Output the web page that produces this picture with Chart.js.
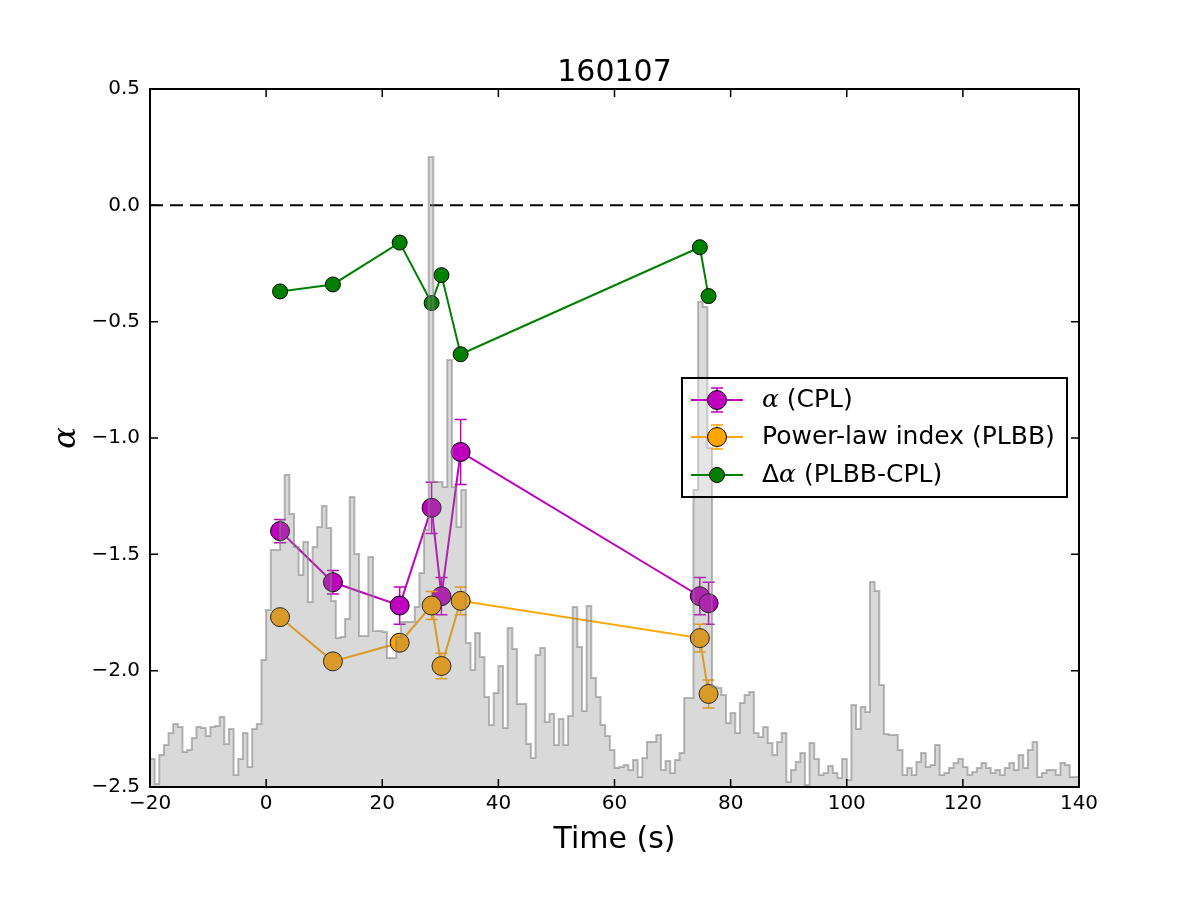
<!DOCTYPE html>
<html>
<head>
<meta charset="utf-8">
<title>160107</title>
<script src="https://cdn.jsdelivr.net/npm/chart.js@4.4.0/dist/chart.umd.min.js"></script>
<style>
  body { margin: 0; background: #fff; }
  canvas { display: block; }
</style>
</head>
<body>
<canvas id="chart" width="1200" height="900"></canvas>
<script>
// time-resolved spectral fits
const times = [2.4, 11.5, 23.0, 28.5, 30.2, 33.5, 74.7, 76.2];
const alphaCPL = [-1.40, -1.62, -1.72, -1.30, -1.68, -1.06, -1.68, -1.71];
const alphaCPLErr = [0.05, 0.05, 0.08, 0.11, 0.08, 0.14, 0.08, 0.09];
const plIndex = [-1.77, -1.96, -1.88, -1.72, -1.98, -1.70, -1.86, -2.10];
const plIndexErr = [0.03, 0.03, 0.03, 0.06, 0.055, 0.06, 0.06, 0.06];
const deltaAlpha = [-0.37, -0.34, -0.16, -0.42, -0.30, -0.64, -0.18, -0.39];

// light curve (arbitrary units), 0.8 s bins starting at -20 s
const histStart = -20;
const histBin = 0.8;
const histCounts = [
  28, 3, 32, 42, 54, 63, 60, 35, 37, 49,
  60, 59, 51, 60, 61, 70, 43, 58, 12, 28,
  54, 20, 58, 63, 127, 177, 237, 237, 267, 312,
  273, 240, 212, 245, 185, 240, 260, 281, 259, 186,
  149, 150, 168, 290, 233, 151, 151, 230, 156, 156,
  155, 129, 129, 150, 165, 165, 165, 180, 214, 257,
  630, 305, 305, 300, 427, 300, 260, 297, 144, 117,
  154, 130, 90, 62, 94, 121, 59, 159, 138, 83,
  83, 43, 29, 132, 139, 65, 73, 42, 68, 42,
  71, 180, 140, 76, 181, 109, 90, 62, 51, 37,
  19, 20, 22, 17, 27, 10, 29, 45, 45, 52,
  17, 26, 14, 27, 34, 89, 89, 297, 485, 480,
  339, 100, 99, 92, 64, 74, 54, 84, 92, 95,
  54, 50, 60, 44, 32, 45, 54, 5, 17, 25,
  34, 2, 44, 28, 12, 14, 21, 14, 9, 28,
  7, 82, 58, 80, 75, 205, 196, 102, 53, 52,
  52, 37, 12, 19, 12, 25, 34, 20, 22, 42,
  12, 14, 19, 24, 28, 20, 12, 15, 19, 24,
  19, 14, 17, 12, 19, 24, 17, 32, 19, 37,
  45, 10, 14, 17, 17, 12, 24, 22, 10, 10
];

const xTicks = [-20, 0, 20, 40, 60, 80, 100, 120, 140];
const yTicks = [-2.5, -2.0, -1.5, -1.0, -0.5, 0.0, 0.5];

const FONT = '"DejaVu Sans"';
const MAGENTA = '#bf00bf';
const ORANGE = '#ffa500';
const GREEN = '#008000';

function pts(ys) {
  return times.map(function (t, i) { return { x: t, y: ys[i] }; });
}

const histPoints = histCounts.map(function (c, i) {
  return { x: histStart + i * histBin, y: c };
});
histPoints.push({ x: histStart + histCounts.length * histBin, y: histCounts[histCounts.length - 1] });

function minus(s) { return s.replace('-', '\u2212'); }

// error bars are drawn just before their series, under the markers
const errorBars = {
  id: 'errorBars',
  beforeDatasetDraw(chart, args) {
    const ds = chart.data.datasets[args.index];
    if (!ds.errors) return;
    const ctx = chart.ctx, xs = chart.scales.x, ys = chart.scales.y;
    ctx.save();
    ctx.strokeStyle = ds.borderColor;
    ctx.lineWidth = 1.5;
    ds.data.forEach(function (p, i) {
      const e = ds.errors[i];
      const px = xs.getPixelForValue(p.x);
      const y1 = ys.getPixelForValue(p.y + e);
      const y2 = ys.getPixelForValue(p.y - e);
      ctx.beginPath();
      ctx.moveTo(px, y1); ctx.lineTo(px, y2);
      ctx.moveTo(px - 6, y1); ctx.lineTo(px + 6, y1);
      ctx.moveTo(px - 6, y2); ctx.lineTo(px + 6, y2);
      ctx.stroke();
    });
    ctx.restore();
  }
};

function drawParts(ctx, parts, x, y) {
  parts.forEach(function (p) {
    ctx.font = p.math ? 'italic 25px "DejaVu Serif"' : '25px ' + FONT;
    ctx.fillText(p.t, x, y);
    x += ctx.measureText(p.t).width;
  });
}

const decorations = {
  id: 'decorations',
  afterDraw(chart) {
    const ctx = chart.ctx, a = chart.chartArea;
    const xs = chart.scales.x, ys = chart.scales.y;
    ctx.save();

    // inward tick marks on all four sides
    ctx.strokeStyle = '#000';
    ctx.lineWidth = 1.5;
    ctx.beginPath();
    xTicks.forEach(function (v) {
      const px = xs.getPixelForValue(v);
      ctx.moveTo(px, a.bottom); ctx.lineTo(px, a.bottom - 8);
      ctx.moveTo(px, a.top); ctx.lineTo(px, a.top + 8);
    });
    yTicks.forEach(function (v) {
      const py = ys.getPixelForValue(v);
      ctx.moveTo(a.left, py); ctx.lineTo(a.left + 8, py);
      ctx.moveTo(a.right, py); ctx.lineTo(a.right - 8, py);
    });
    ctx.stroke();

    // axes frame
    ctx.lineWidth = 2;
    ctx.strokeRect(a.left, a.top, a.right - a.left, a.bottom - a.top);

    // title and axis labels
    ctx.fillStyle = '#000';
    ctx.textAlign = 'center';
    ctx.textBaseline = 'alphabetic';
    ctx.font = '30px ' + FONT;
    ctx.fillText('160107', (a.left + a.right) / 2, 81);
    ctx.textBaseline = 'middle';
    ctx.fillText('Time (s)', (a.left + a.right) / 2, 840);
    ctx.save();
    ctx.translate(67, (a.top + a.bottom) / 2);
    ctx.rotate(-Math.PI / 2);
    ctx.font = 'italic 32px "DejaVu Serif"';
    ctx.fillText('\u03b1', 0, 0);
    ctx.restore();

    // legend
    const lx = 682, ly = 378, lw = 385, lh = 119;
    ctx.fillStyle = 'rgba(255,255,255,0.3)';
    ctx.fillRect(lx, ly, lw, lh);
    ctx.lineWidth = 2;
    ctx.strokeStyle = '#000';
    ctx.strokeRect(lx, ly, lw, lh);
    const entries = [
      { y: 400, color: MAGENTA, r: 9.5, err: 12, parts: [{ t: '\u03b1', math: true }, { t: ' (CPL)' }] },
      { y: 437, color: ORANGE, r: 9.5, err: 12, parts: [{ t: 'Power-law index (PLBB)' }] },
      { y: 475, color: GREEN, r: 7.5, err: 0, parts: [{ t: '\u0394' }, { t: '\u03b1', math: true }, { t: ' (PLBB-CPL)' }] }
    ];
    entries.forEach(function (e) {
      const mx = 717;
      ctx.strokeStyle = e.color;
      ctx.lineWidth = 2;
      ctx.beginPath();
      ctx.moveTo(691, e.y); ctx.lineTo(743, e.y);
      ctx.stroke();
      if (e.err) {
        ctx.lineWidth = 1.5;
        ctx.beginPath();
        ctx.moveTo(mx, e.y - e.err); ctx.lineTo(mx, e.y + e.err);
        ctx.moveTo(mx - 6, e.y - e.err); ctx.lineTo(mx + 6, e.y - e.err);
        ctx.moveTo(mx - 6, e.y + e.err); ctx.lineTo(mx + 6, e.y + e.err);
        ctx.stroke();
      }
      ctx.beginPath();
      ctx.arc(mx, e.y, e.r, 0, Math.PI * 2);
      ctx.fillStyle = e.color;
      ctx.fill();
      ctx.lineWidth = 1;
      ctx.strokeStyle = '#000';
      ctx.stroke();
      ctx.fillStyle = '#000';
      ctx.textAlign = 'left';
      ctx.textBaseline = 'middle';
      drawParts(ctx, e.parts, 762, e.y);
    });
    ctx.restore();
  }
};

function series(label, ys, color, radius, errs, order) {
  return {
    label: label,
    data: pts(ys),
    errors: errs,
    borderColor: color,
    backgroundColor: color,
    borderWidth: 2,
    pointRadius: radius,
    pointBackgroundColor: color,
    pointBorderColor: '#000',
    pointBorderWidth: 1,
    order: order
  };
}

new Chart(document.getElementById('chart').getContext('2d'), {
  type: 'line',
  data: {
    datasets: [
      {
        label: 'light curve',
        data: histPoints,
        yAxisID: 'y2',
        stepped: true,
        fill: 'start',
        backgroundColor: 'rgba(128,128,128,0.3)',
        borderColor: 'rgba(128,128,128,0.55)',
        borderWidth: 2,
        pointRadius: 0,
        order: 1
      },
      series('\u0394\u03b1 (PLBB-CPL)', deltaAlpha, GREEN, 7.5, null, 2),
      series('Power-law index (PLBB)', plIndex, ORANGE, 9.5, plIndexErr, 3),
      series('\u03b1 (CPL)', alphaCPL, MAGENTA, 9.5, alphaCPLErr, 4),
      {
        label: 'zero',
        data: [{ x: -20, y: 0 }, { x: 140, y: 0 }],
        borderColor: '#000',
        borderWidth: 2,
        borderDash: [13, 7],
        pointRadius: 0,
        order: 5
      }
    ]
  },
  options: {
    responsive: false,
    animation: false,
    devicePixelRatio: 1,
    layout: { padding: { left: 0, top: 89, right: 121, bottom: 0 } },
    plugins: {
      legend: { display: false },
      title: { display: false },
      tooltip: { enabled: false }
    },
    scales: {
      x: {
        type: 'linear',
        min: -20,
        max: 140,
        grid: { display: false, drawTicks: false },
        border: { display: false },
        afterBuildTicks: function (s) { s.ticks = xTicks.map(function (v) { return { value: v }; }); },
        afterFit: function (s) { s.height = 113; },
        ticks: {
          padding: 5,
          color: '#000',
          font: { family: FONT, size: 20 },
          callback: function (v) { return minus(String(v)); }
        }
      },
      y: {
        min: -2.5,
        max: 0.5,
        grid: { display: false, drawTicks: false },
        border: { display: false },
        afterBuildTicks: function (s) { s.ticks = yTicks.map(function (v) { return { value: v }; }); },
        afterFit: function (s) { s.width = 150; },
        ticks: {
          padding: 10,
          color: '#000',
          font: { family: FONT, size: 20 },
          callback: function (v) { return minus(v.toFixed(1)); }
        }
      },
      y2: {
        display: false,
        min: 0,
        max: 698
      }
    }
  },
  plugins: [errorBars, decorations]
});
</script>
</body>
</html>
